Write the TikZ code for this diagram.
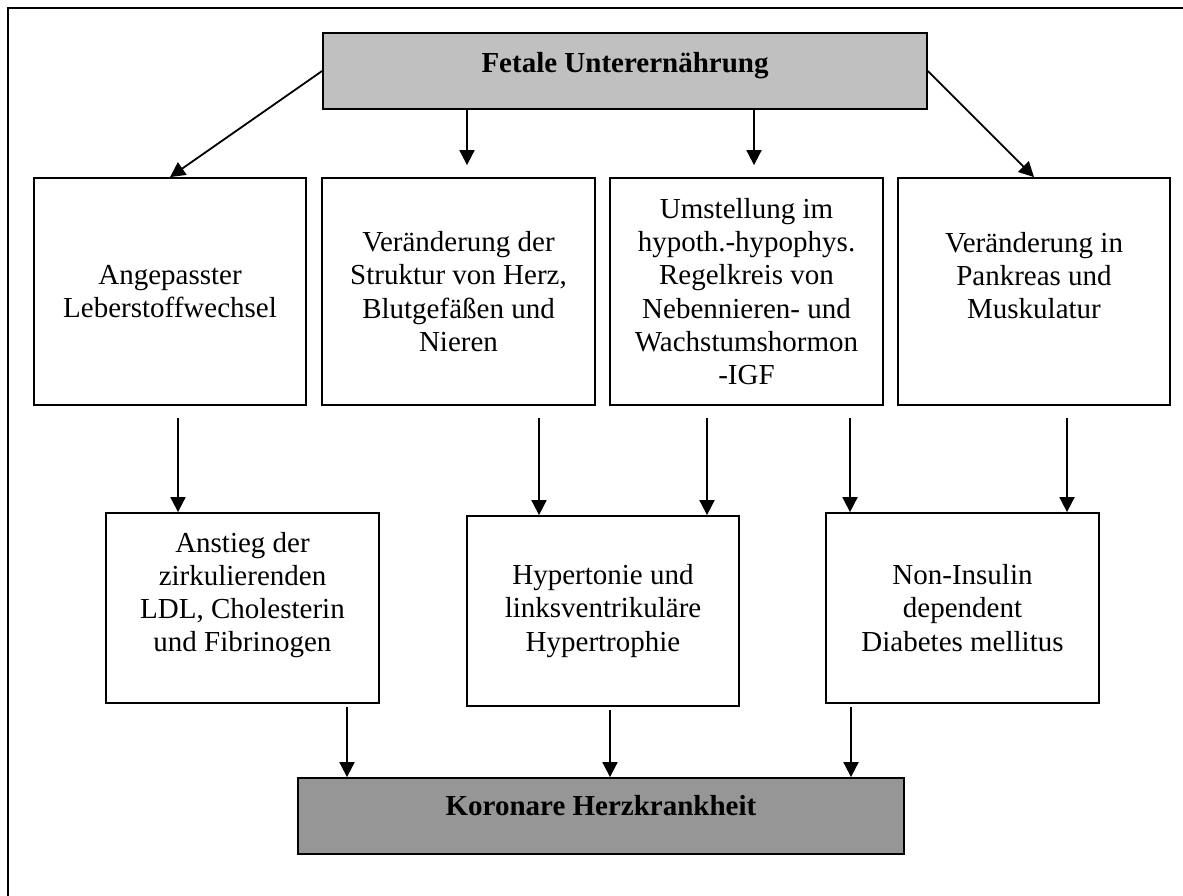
\documentclass[tikz,border=0pt]{standalone}
\usepackage{fontspec}
\setmainfont{Liberation Serif}
\usetikzlibrary{arrows.meta}
\definecolor{headgray}{HTML}{C0C0C0}
\definecolor{footgray}{HTML}{969696}

\begin{document}
\begin{tikzpicture}[
  x=0.5pt, y=-0.5pt,
  box/.style={draw, line width=0.9pt, inner sep=0pt, align=center, font=\fontsize{14.5}{16.6}\selectfont},
  head/.style={box, font=\fontsize{14.5}{16.6}\selectfont\bfseries, text height=10pt},
  conn/.style={-{Triangle[length=7.5pt, width=7.5pt]}, line width=0.9pt}
]
  \useasboundingbox (0,0) rectangle (1183,895);
  \clip (0,0) rectangle (1183,895);
  \draw[line width=1pt] (8,8) rectangle (1210,920);

  \node[head, fill=headgray, minimum width=302pt, minimum height=38pt, text depth=9pt] (fetal) at (625,71) {Fetale Unterernährung};

  \node[box, minimum width=136pt, minimum height=113.5pt] (leber) at (170,291.5) {Angepasster\\Leberstoffwechsel};
  \node[box, minimum width=136.5pt, minimum height=113.5pt] (struktur) at (458.5,291.5) {Veränderung der\\Struktur von Herz,\\Blutgefäßen und\\Nieren};
  \node[box, minimum width=136.5pt, minimum height=113.5pt] (regel) at (746.5,291.5) {Umstellung im\\hypoth.-hypophys.\\Regelkreis von\\Nebennieren- und\\Wachstumshormon\\-IGF};
  \node[box, minimum width=136pt, minimum height=113.5pt] (pankreas) at (1034,291.5) {Veränderung in\\Pankreas und\\Muskulatur\\[-5.5pt]\strut};

  \node[box, minimum width=136.5pt, minimum height=95pt] (lipide) at (242.5,608) {Anstieg der\\zirkulierenden\\LDL, Cholesterin\\und Fibrinogen\\[-5.5pt]\strut};
  \node[box, minimum width=136pt, minimum height=95pt] (hyper) at (603,611) {Hypertonie und\\linksventrikuläre\\Hypertrophie};
  \node[box, minimum width=136.5pt, minimum height=95pt] (diabetes) at (962.5,608) {Non-Insulin\\dependent\\Diabetes mellitus};

  \node[head, fill=footgray, minimum width=303pt, minimum height=38pt, text depth=11pt] (khk) at (601,816) {Koronare Herzkrankheit};

  % von oben in die erste Reihe
  \draw[conn] (fetal.west) -- (leber.north);
  \draw[conn] (fetal.east) -- (pankreas.north);
  \draw[conn, shorten >=6pt] ([xshift=4.25pt]struktur.north |- fetal.south) -- ([xshift=4.25pt]struktur.north);
  \draw[conn, shorten >=6pt] ([xshift=3.75pt]regel.north |- fetal.south) -- ([xshift=3.75pt]regel.north);

  % erste Reihe in die zweite
  \draw[conn, shorten <=6pt] ([xshift=4pt]leber.south) -- ([xshift=4pt]leber.south |- lipide.north);
  \draw[conn, shorten <=6pt] ([xshift=40.25pt]struktur.south) -- ([xshift=40.25pt]struktur.south |- hyper.north);
  \draw[conn, shorten <=6pt] ([xshift=-19.75pt]regel.south) -- ([xshift=-19.75pt]regel.south |- hyper.north);
  \draw[conn, shorten <=6pt] ([xshift=51.75pt]regel.south) -- ([xshift=51.75pt]regel.south |- diabetes.north);
  \draw[conn, shorten <=6pt] ([xshift=16.5pt]pankreas.south) -- ([xshift=16.5pt]pankreas.south |- diabetes.north);

  % zweite Reihe nach unten
  \draw[conn, shorten <=1.5pt] ([xshift=52.25pt]lipide.south) -- ([xshift=52.25pt]lipide.south |- khk.north);
  \draw[conn, shorten <=1.5pt] ([xshift=3.5pt]hyper.south) -- ([xshift=3.5pt]hyper.south |- khk.north);
  \draw[conn, shorten <=1.5pt] ([xshift=-55.75pt]diabetes.south) -- ([xshift=-55.75pt]diabetes.south |- khk.north);
\end{tikzpicture}
\end{document}
